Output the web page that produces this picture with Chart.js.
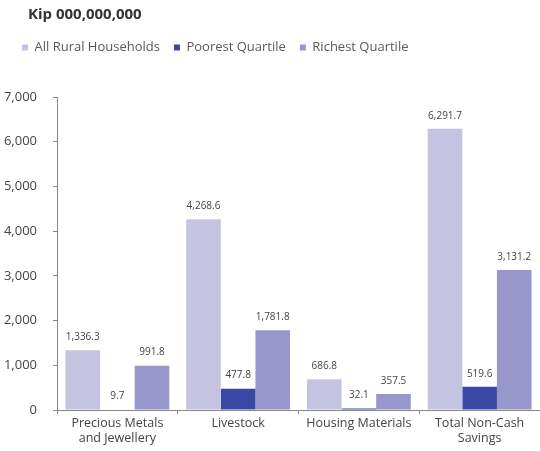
<!DOCTYPE html>
<html><head><meta charset="utf-8">
<script src="https://cdn.jsdelivr.net/npm/chart.js@4/dist/chart.umd.min.js"></script>
<style>html,body{margin:0;padding:0;background:#fff}#wrap{width:540px;height:451px}</style>
</head><body><div id="wrap"><canvas id="c" width="540" height="451"></canvas></div>
<script>
const titleText = "Kip 000,000,000";
const categories = [["Precious Metals","and Jewellery"],["Livestock"],["Housing Materials"],["Total Non-Cash","Savings"]];
const seriesNames = ["All Rural Households","Poorest Quartile","Richest Quartile"];
const allRural = [1336.3, 4268.6, 686.8, 6291.7];
const poorest = [9.7, 477.8, 32.1, 519.6];
const richest = [991.8, 1781.8, 357.5, 3131.2];
const yTicks = [0,1000,2000,3000,4000,5000,6000,7000];
const colors = ["#c4c4e2","#3b47a5","#9797cb"];
const FONT = "'Open Sans', 'Noto Sans', sans-serif";

const fmt = v => v.toLocaleString('en-US',{minimumFractionDigits:1,maximumFractionDigits:1});

const titlePlugin = {
  id:'kipTitle',
  beforeInit(chart){
    const lg = chart.legend;
    if(lg){
      const orig = lg.fit;
      lg.fit = function(){ orig.call(this); this.height += 33; };
    }
  },
  beforeDraw(chart){
    if(chart.legend){ chart.legend.left = 8; }
  },
  afterDraw(chart){
    const ctx = chart.ctx;
    ctx.save();
    ctx.font = "bold 15px " + FONT;
    ctx.fillStyle = "#333";
    ctx.textBaseline = "middle";
    ctx.textAlign = "left";
    ctx.fillText(titleText, 28, 15);
    ctx.restore();
  }
};
const labelPlugin = {
  id:'valLabels',
  afterDatasetsDraw(chart){
    const ctx = chart.ctx;
    ctx.save();
    ctx.font = "10px " + FONT;
    ctx.fillStyle = "#444";
    ctx.textAlign = "center";
    ctx.textBaseline = "middle";
    chart.data.datasets.forEach((ds,i)=>{
      chart.getDatasetMeta(i).data.forEach((bar,j)=>{
        ctx.fillText(fmt(ds.data[j]), bar.x, bar.y - 13);
      });
    });
    ctx.restore();
  }
};

new Chart(document.getElementById('c'),{
  type:'bar',
  data:{
    labels:categories,
    datasets:[
      {label:seriesNames[0],data:allRural,backgroundColor:colors[0]},
      {label:seriesNames[1],data:poorest,backgroundColor:colors[1]},
      {label:seriesNames[2],data:richest,backgroundColor:colors[2]}
    ]
  },
  options:{
    responsive:false,
    animation:false,
    devicePixelRatio:1,
    datasets:{bar:{categoryPercentage:0.86,barPercentage:1.0}},
    layout:{padding:{left:0,right:0,top:27,bottom:3}},
    plugins:{
      legend:{
        position:'top',align:'start',
        labels:{boxWidth:6,boxHeight:6,padding:14,color:'#5a5a5a',font:{family:FONT,size:13}}
      },
      title:{display:false},
      tooltip:{enabled:false}
    },
    scales:{
      x:{
        grid:{display:true,drawOnChartArea:false,drawTicks:true,tickLength:4,color:'#888',offset:true},
        border:{display:true,color:'#888',width:1},
        ticks:{color:'#444',font:{family:FONT,size:12.5},maxRotation:0,padding:2}
      },
      y:{
        min:0,max:7000,
        afterFit(axis){axis.width=57;},
        afterBuildTicks(axis){axis.ticks = yTicks.map(v=>({value:v}));},
        grid:{display:true,drawOnChartArea:false,drawTicks:true,tickLength:4,color:'#888'},
        border:{display:true,color:'#888',width:1},
        ticks:{color:'#444',font:{family:FONT,size:13},padding:16,
          callback:v=>v.toLocaleString('en-US')}
      }
    }
  },
  plugins:[titlePlugin,labelPlugin]
});
</script></body></html>
